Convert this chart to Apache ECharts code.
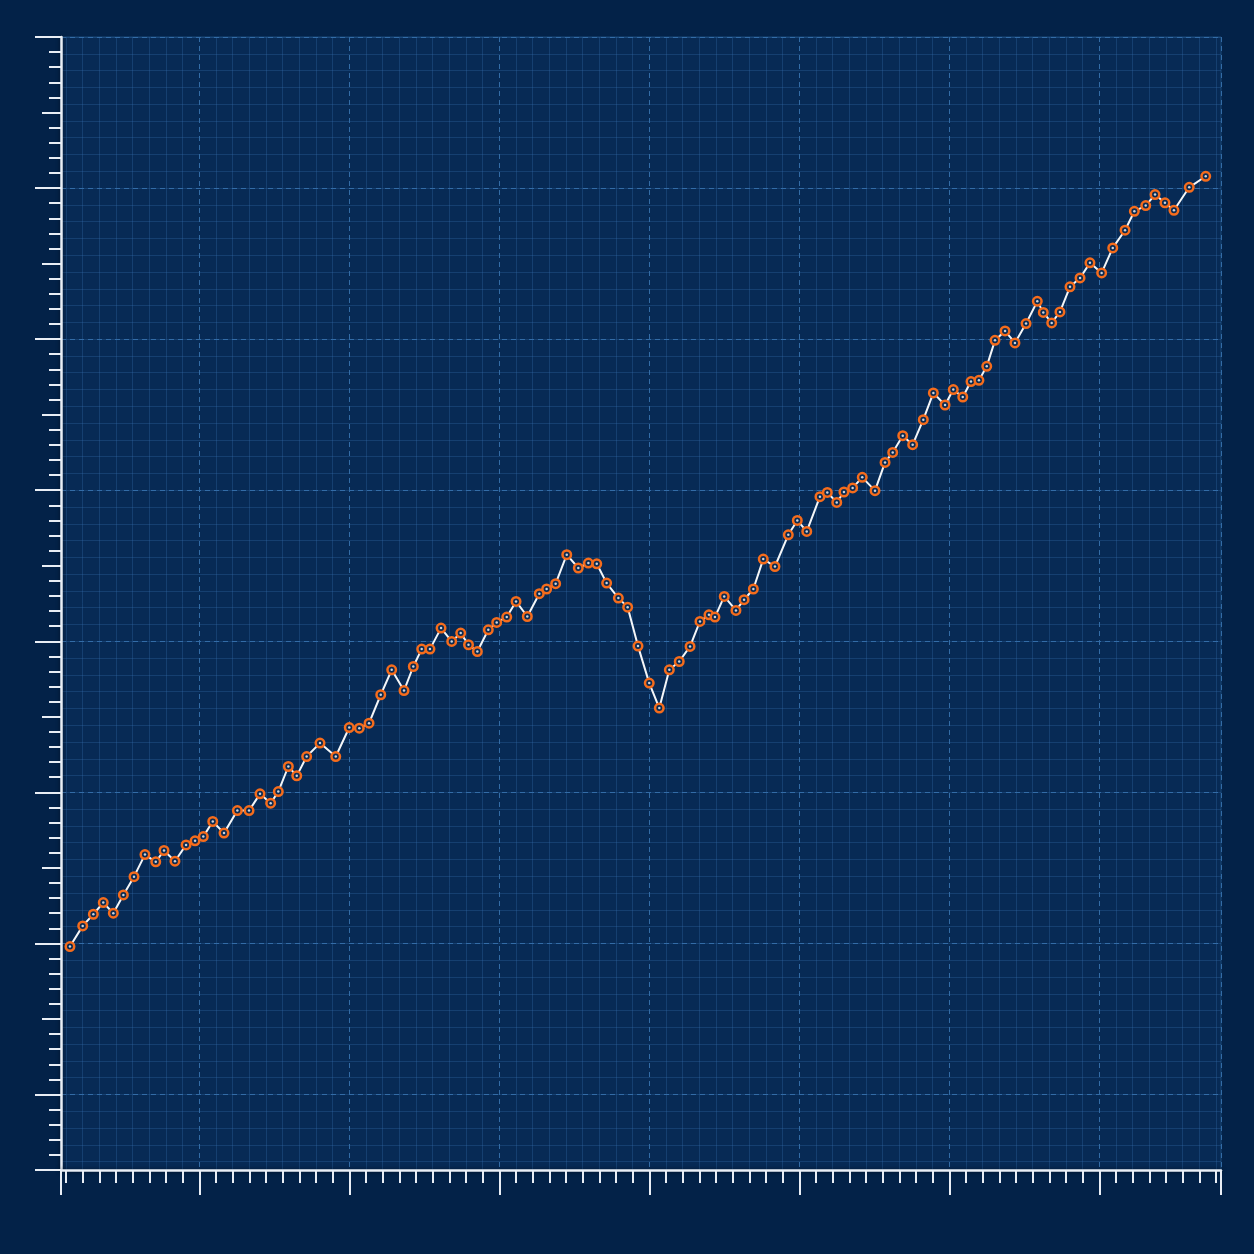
<!DOCTYPE html>
<html>
<head>
<meta charset="utf-8">
<script src="https://cdn.jsdelivr.net/npm/echarts@6/dist/echarts.min.js"></script>
<style>
html,body{margin:0;padding:0;background:#032248;}
#chart{width:1254px;height:1254px;}
</style>
</head>
<body>
<div id="chart"></div>
<script>
// x positions (time units) and values
const xValues = [1.37,2.22,2.93,3.59,4.26,4.93,5.64,6.37,7.09,7.64,8.37,9.11,9.71,10.26,10.89,11.64,12.53,13.31,14.04,14.75,15.26,15.93,16.49,17.15,18.04,19.09,19.99,20.66,21.31,22.09,22.82,23.64,24.26,24.82,25.37,26.11,26.82,27.42,27.94,28.53,29.26,29.82,30.49,31.11,31.86,32.66,33.15,33.75,34.49,35.26,35.93,36.49,37.15,37.93,38.55,39.24,39.99,40.66,41.33,41.99,42.71,43.37,43.97,44.37,44.99,45.77,46.31,46.93,47.59,48.37,49.26,49.86,50.49,51.37,51.86,52.49,52.97,53.55,54.19,55.04,55.71,56.22,56.89,57.55,58.26,58.93,59.71,60.26,60.89,61.44,61.97,62.49,63.04,63.71,64.37,65.11,65.86,66.26,66.82,67.37,68.04,68.71,69.37,70.15,70.89,71.71,72.33,73.09,73.71,74.37,74.97,75.99,77.09];
const yValues = [19.79,21.16,21.93,22.70,22.00,23.21,24.42,25.88,25.40,26.15,25.44,26.52,26.79,27.07,28.07,27.30,28.79,28.79,29.90,29.28,30.05,31.71,31.09,32.37,33.26,32.37,34.29,34.25,34.58,36.46,38.11,36.74,38.33,39.48,39.48,40.87,39.99,40.54,39.77,39.32,40.76,41.25,41.60,42.64,41.64,43.15,43.46,43.81,45.73,44.85,45.18,45.13,43.85,42.86,42.26,39.68,37.23,35.58,38.11,38.66,39.66,41.31,41.75,41.60,42.97,42.04,42.75,43.46,45.44,44.95,47.05,48.00,47.27,49.57,49.85,49.19,49.88,50.15,50.85,49.97,51.84,52.50,53.61,53.01,54.67,56.44,55.64,56.66,56.17,57.19,57.27,58.20,59.92,60.54,59.75,61.03,62.50,61.77,61.07,61.80,63.46,64.05,65.05,64.38,66.04,67.21,68.46,68.84,69.57,69.02,68.53,70.05,70.78];
// axis ranges
const xRange = [0.773, 78.107];
const yRange = [5, 80];

const points = xValues.map((x, i) => [x, yValues[i]]);

const chart = echarts.init(document.getElementById('chart'), null, {renderer: 'canvas'});
const axisWhite = '#e9eef5';
const majorGrid = '#336ca6';
const minorGrid = 'rgba(52,110,170,0.32)';
const hidden = {axisLabel: {show: false}, splitLine: {show: false}};

chart.setOption({
  backgroundColor: '#032248',
  animation: false,
  grid: {
    left: 61, right: 33, top: 37, bottom: 84,
    show: true, backgroundColor: '#072a55', borderColor: '#1b4878', borderWidth: 1
  },
  xAxis: [{
    type: 'value', min: xRange[0], max: xRange[1], splitNumber: 8,
    axisLine: {show: true, onZero: false, lineStyle: {color: axisWhite, width: 2.5, shadowColor: 'rgba(0,0,0,0.5)', shadowBlur: 4}},
    axisTick: {show: true, length: 25, lineStyle: {color: axisWhite, width: 2}},
    minorTick: {show: true, splitNumber: 9, length: 13, lineStyle: {color: axisWhite, width: 2}},
    axisLabel: {show: false},
    splitLine: {show: true, lineStyle: {color: majorGrid, width: 1, type: [5, 4]}},
    minorSplitLine: {show: true, lineStyle: {color: minorGrid, width: 1}}
  }, {
    // end ticks at the two edges of the x axis
    type: 'value', min: xRange[0], max: xRange[1], interval: xRange[1] - xRange[0], position: 'bottom',
    axisLine: {show: false, onZero: false},
    axisTick: {show: true, length: 23, lineStyle: {color: axisWhite, width: 2}},
    ...hidden
  }],
  yAxis: [{
    type: 'value', min: yRange[0], max: yRange[1], splitNumber: 8,
    axisLine: {show: true, onZero: false, lineStyle: {color: axisWhite, width: 2.5, shadowColor: 'rgba(0,0,0,0.5)', shadowBlur: 4}},
    axisTick: {show: true, length: 26, lineStyle: {color: axisWhite, width: 2}},
    axisLabel: {show: false},
    splitLine: {show: true, lineStyle: {color: majorGrid, width: 1, type: [5, 4]}}
  }, {
    type: 'value', min: yRange[0], max: yRange[1], interval: 5, position: 'left',
    axisLine: {show: false, onZero: false},
    axisTick: {show: true, length: 19, lineStyle: {color: axisWhite, width: 2}},
    minorTick: {show: true, splitNumber: 5, length: 12, lineStyle: {color: axisWhite, width: 2}},
    ...hidden
  }, {
    type: 'value', min: 0.9 * (yRange[0] - 10), max: 0.9 * (yRange[1] - 10), splitNumber: 60, position: 'left',
    axisLine: {show: false, onZero: false}, axisTick: {show: false}, axisLabel: {show: false},
    splitLine: {show: true, lineStyle: {color: minorGrid, width: 1}}
  }, {
    // end tick at the bottom edge of the y axis
    type: 'value', min: yRange[0], max: yRange[1], interval: yRange[1] - yRange[0], position: 'left',
    axisLine: {show: false, onZero: false},
    axisTick: {show: true, length: 22, lineStyle: {color: axisWhite, width: 2}},
    ...hidden
  }],
  series: [{
    type: 'line',
    data: points,
    xAxisIndex: 0, yAxisIndex: 0,
    symbol: 'circle', symbolSize: 8.5, showSymbol: true,
    lineStyle: {color: '#f4f6f8', width: 2},
    itemStyle: {color: '#0b2b52', borderColor: '#f56c1c', borderWidth: 2.5},
    z: 5
  }, {
    type: 'scatter',
    data: points,
    xAxisIndex: 0, yAxisIndex: 0,
    symbol: 'circle', symbolSize: 2.5,
    itemStyle: {color: '#ffffff'},
    silent: true,
    z: 6
  }]
});
</script>
</body>
</html>
